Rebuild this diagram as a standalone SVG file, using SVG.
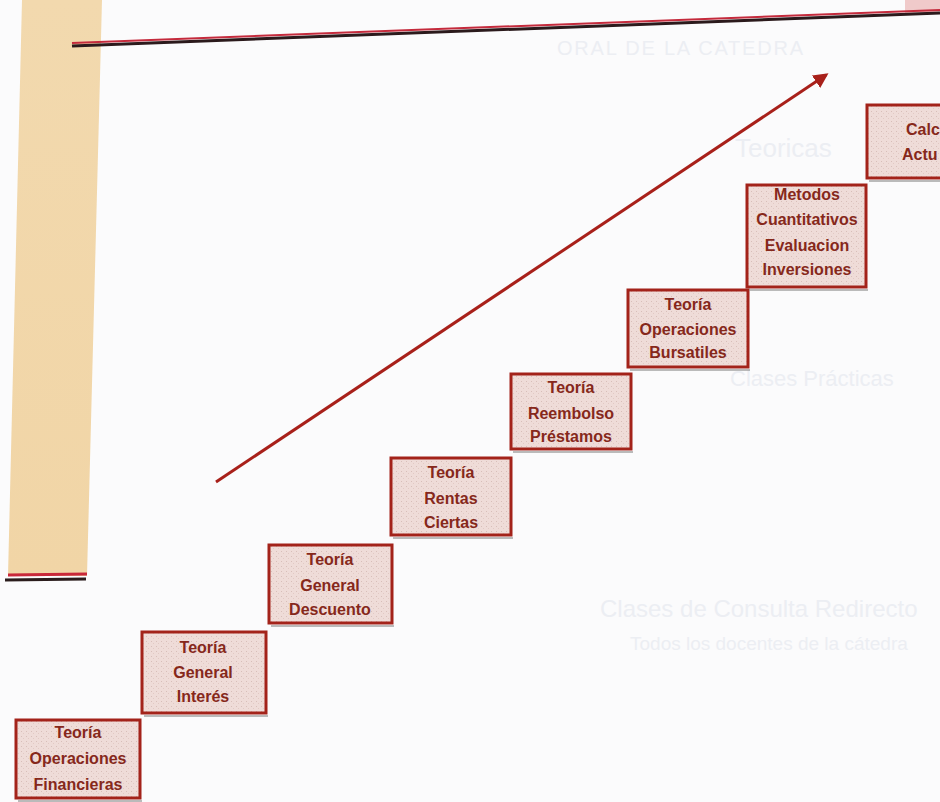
<svg xmlns="http://www.w3.org/2000/svg" width="940" height="802" viewBox="0 0 940 802">
  <style>
    .box { fill: url(#tex); stroke: #a3231a; stroke-width: 3; }
    .shadow { stroke: #8f8f8f; stroke-width: 2; opacity: 0.6; }
    .lbl { font-family: "Liberation Sans", Arial, sans-serif; font-weight: bold; font-size: 16px; fill: #86281b; text-anchor: middle; }
    .lbl-s { font-family: "Liberation Sans", Arial, sans-serif; font-weight: bold; font-size: 16px; fill: #86281b; }
    .ghost { font-family: "Liberation Sans", Arial, sans-serif; fill: #eceef3; }
  </style>
  <defs>
    <pattern id="tex" width="5" height="5" patternUnits="userSpaceOnUse">
      <rect width="5" height="5" fill="#efdcd8"/>
      <rect x="1" y="1" width="1" height="1" fill="#d8beb9"/>
      <rect x="3" y="3" width="1" height="1" fill="#e2c9c4"/>
    </pattern>
    <linearGradient id="band" x1="0" y1="0" x2="0" y2="1">
      <stop offset="0" stop-color="#f2d9ae"/>
      <stop offset="1" stop-color="#f1d5a6"/>
    </linearGradient>
    <marker id="head" viewBox="0 0 10 10" refX="8" refY="5" markerWidth="5" markerHeight="5" orient="auto" markerUnits="strokeWidth">
      <path d="M0,0 L10,5 L0,10 Z" fill="#a8201a"/>
    </marker>
  </defs>

  <rect width="940" height="802" fill="#fbfbfc"/>

  <!-- faint show-through text -->
  <g id="ghost">
    <text class="ghost" x="557" y="55" font-size="20" textLength="246">ORAL DE LA CATEDRA</text>
    <text class="ghost" x="735" y="157" font-size="26">Teoricas</text>
    <text class="ghost" x="730" y="386" font-size="22">Clases Prácticas</text>
    <text class="ghost" x="600" y="617" font-size="24">Clases de Consulta Redirecto</text>
    <text class="ghost" x="630" y="650" font-size="19">Todos los docentes de la cátedra</text>
  </g>

  <!-- beige band and rules -->
  <g id="band-deco">
    <polygon points="22,0 102,0 87,576 8,576" fill="url(#band)"/>
    <line x1="8" y1="575" x2="87" y2="574" stroke="#c9283a" stroke-width="3"/>
    <line x1="5" y1="580" x2="86" y2="579" stroke="#2a1c1c" stroke-width="3"/>
    <rect x="905" y="0" width="35" height="14" fill="#f0caca"/>
  </g>

  <g id="connectors">
    <line x1="72" y1="46" x2="940" y2="13" stroke="#2b1a1c" stroke-width="3"/>
    <line x1="72" y1="43" x2="940" y2="10" stroke="#c42a3c" stroke-width="2"/>
    <line x1="216" y1="482" x2="826" y2="75" stroke="#a8201a" stroke-width="3" marker-end="url(#head)"/>
  </g>

  <g id="n1">
    <line class="shadow" x1="18" y1="801" x2="142" y2="801"/>
    <rect class="box" x="16" y="720" width="124" height="78"/>
    <text class="lbl" x="78" y="738">Teoría</text>
    <text class="lbl" x="78" y="764">Operaciones</text>
    <text class="lbl" x="78" y="790">Financieras</text>
  </g>
  <g id="n2">
    <line class="shadow" x1="144" y1="716" x2="268" y2="716"/>
    <rect class="box" x="142" y="632" width="124" height="81"/>
    <text class="lbl" x="203" y="653">Teoría</text>
    <text class="lbl" x="203" y="678">General</text>
    <text class="lbl" x="203" y="702">Interés</text>
  </g>
  <g id="n3">
    <line class="shadow" x1="271" y1="626" x2="394" y2="626"/>
    <rect class="box" x="269" y="545" width="123" height="78"/>
    <text class="lbl" x="330" y="565">Teoría</text>
    <text class="lbl" x="330" y="591">General</text>
    <text class="lbl" x="330" y="615">Descuento</text>
  </g>
  <g id="n4">
    <line class="shadow" x1="393" y1="538" x2="513" y2="538"/>
    <rect class="box" x="391" y="458" width="120" height="77"/>
    <text class="lbl" x="451" y="478">Teoría</text>
    <text class="lbl" x="451" y="504">Rentas</text>
    <text class="lbl" x="451" y="528">Ciertas</text>
  </g>
  <g id="n5">
    <line class="shadow" x1="513" y1="452" x2="633" y2="452"/>
    <rect class="box" x="511" y="374" width="120" height="75"/>
    <text class="lbl" x="571" y="393">Teoría</text>
    <text class="lbl" x="571" y="419">Reembolso</text>
    <text class="lbl" x="571" y="442">Préstamos</text>
  </g>
  <g id="n6">
    <line class="shadow" x1="630" y1="370" x2="750" y2="370"/>
    <rect class="box" x="628" y="290" width="120" height="77"/>
    <text class="lbl" x="688" y="310">Teoría</text>
    <text class="lbl" x="688" y="335">Operaciones</text>
    <text class="lbl" x="688" y="358">Bursatiles</text>
  </g>
  <g id="n7">
    <line class="shadow" x1="749" y1="290" x2="868" y2="290"/>
    <rect class="box" x="747" y="185" width="119" height="102"/>
    <text class="lbl" x="807" y="200">Metodos</text>
    <text class="lbl" x="807" y="225">Cuantitativos</text>
    <text class="lbl" x="807" y="251">Evaluacion</text>
    <text class="lbl" x="807" y="275">Inversiones</text>
  </g>
  <g id="n8">
    <line class="shadow" x1="869" y1="181" x2="940" y2="181"/>
    <rect class="box" x="867" y="105" width="120" height="73"/>
    <text class="lbl-s" x="906" y="135">Calc</text>
    <text class="lbl-s" x="902" y="160">Actu</text>
  </g>
</svg>
